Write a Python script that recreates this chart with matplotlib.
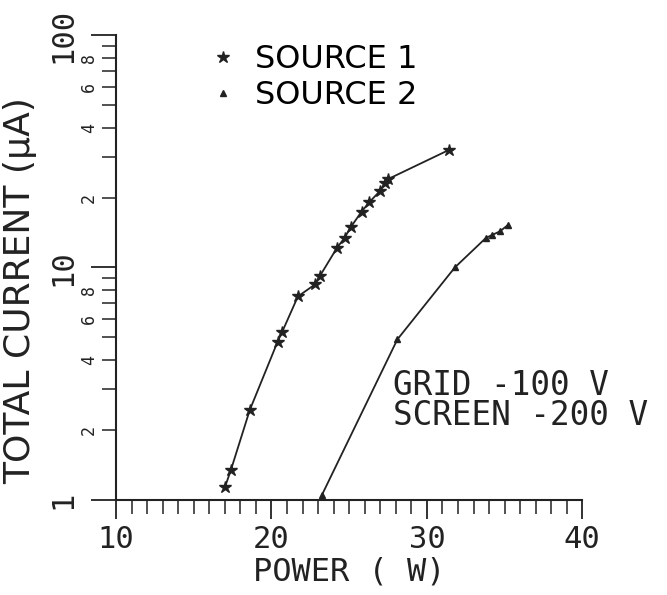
import matplotlib
matplotlib.use('Agg')
import matplotlib.pyplot as plt
from matplotlib.ticker import FixedLocator, FixedFormatter

# source 1 (stars)
p1 = [17.0, 17.4, 18.6, 20.4, 20.7, 21.7, 22.8, 23.1, 24.2, 24.7, 25.1, 25.8, 26.3, 27.0, 27.3, 27.5, 31.4]
i1 = [1.13, 1.35, 2.43, 4.8, 5.3, 7.5, 8.45, 9.15, 12.1, 13.4, 14.9, 17.4, 19.1, 21.4, 23.0, 24.0, 32.0]
# source 2 (triangles)
p2 = [23.25, 28.1, 31.8, 33.8, 34.2, 34.7, 35.2]
i2 = [1.05, 4.9, 10.0, 13.4, 13.8, 14.3, 15.2]

ymajor = [1, 10, 100]
yminor = [2, 3, 4, 5, 6, 7, 8, 9, 20, 30, 40, 50, 60, 70, 80, 90]
yminor_lab = ['2', '', '4', '', '6', '', '8', '', '2', '', '4', '', '6', '', '8', '']

plt.rcParams['font.family'] = ['DejaVu Sans Mono']
fig = plt.figure(figsize=(6.67, 5.95), dpi=100)
ax = fig.add_axes([0.174, 0.16, 0.699, 0.781])

ax.plot(p1, i1, color='#222222', lw=1.3, marker='*', ms=9, mec='#222222', mfc='#222222', label='SOURCE 1')
ax.plot(p2, i2, color='#222222', lw=1.3, marker='^', ms=5, mec='#222222', mfc='#222222', label='SOURCE 2')

ax.set_yscale('log')
ax.set_xlim(10, 40)
ax.set_ylim(1, 100)

for s in ['top', 'right']:
    ax.spines[s].set_visible(False)
for s in ['left', 'bottom']:
    ax.spines[s].set_linewidth(1.5)
    ax.spines[s].set_color('#222222')

ax.set_xticks([10, 20, 30, 40])
ax.set_xticks(range(10, 41), minor=True)
ax.tick_params(axis='x', which='major', direction='out', length=14, width=1.3, labelsize=22, pad=4, colors='#222222')
ax.tick_params(axis='x', which='minor', direction='out', length=10, width=1.1, colors='#222222')

ax.yaxis.set_major_locator(FixedLocator(ymajor))
ax.yaxis.set_major_formatter(FixedFormatter(['1', '10', '100']))
ax.yaxis.set_minor_locator(FixedLocator(yminor))
ax.yaxis.set_minor_formatter(FixedFormatter(yminor_lab))
ax.tick_params(axis='y', which='major', direction='out', length=18, width=1.3, labelsize=22, pad=10, colors='#222222')
ax.tick_params(axis='y', which='minor', direction='out', length=10, width=1.1, labelsize=12, pad=3, colors='#222222')
for lab in ax.get_yticklabels(which='major') + ax.get_yticklabels(which='minor'):
    lab.set_rotation(90)
    lab.set_va('center')

ax.set_xlabel('POWER ( W)', fontsize=23, color='#222222', labelpad=2)
ax.set_ylabel('TOTAL CURRENT (μA)', fontsize=26, color='#222222', family='DejaVu Sans')
ax.yaxis.set_label_coords(-0.17, 0.45)

ax.text(27.8, 2.68, 'GRID -100 V\nSCREEN -200 V', fontsize=23.5, color='#222222',
        va='center', ha='left', linespacing=0.9)

ax.legend(loc='upper left', bbox_to_anchor=(0.168, 1.015), frameon=False,
          prop={'family': 'DejaVu Sans', 'size': 23},
          handlelength=0.8, handletextpad=0.6, labelspacing=0.15, borderpad=0)
leg = ax.get_legend()
for h in leg.legend_handles:
    h.set_linestyle('none')

fig.savefig('out.png', dpi=100)
